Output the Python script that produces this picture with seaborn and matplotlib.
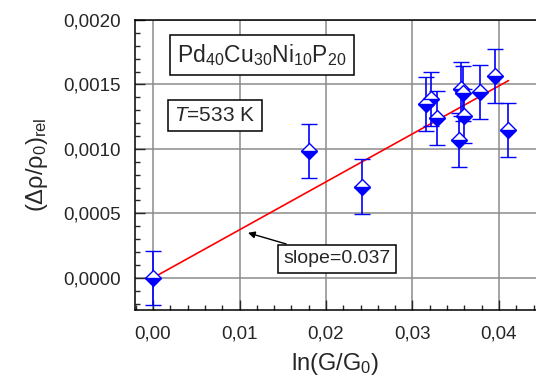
import numpy as np
import pandas as pd
import seaborn as sns
import matplotlib
matplotlib.use("Agg")
from matplotlib import pyplot as plt
from matplotlib.ticker import MultipleLocator, FuncFormatter

# datos medidos: ln(G/G0) contra (drho/rho0)_rel
ln_g = [0.0, 0.0180, 0.0242, 0.0316, 0.0321, 0.0328, 0.0354, 0.0356, 0.0358, 0.0359, 0.0378, 0.0395, 0.0411]
drho = [0.0, 0.000984, 0.000708, 0.001349, 0.001384, 0.001238, 0.001070, 0.001465, 0.001430, 0.001256, 0.001444, 0.001566, 0.001147]
drho_err = [0.00021, 0.00021, 0.00021, 0.00021, 0.00021, 0.00021, 0.00021, 0.00021, 0.00021, 0.00021, 0.00021, 0.00021, 0.00021]

# ajuste lineal (pendiente 0.037)
fit_x = [0.0, 0.0411]
fit_y = [0.0, 0.00153]

sns.set_style("white")
plt.rcParams['font.family'] = ['Liberation Sans', 'DejaVu Sans']
plt.rcParams['mathtext.fontset'] = 'custom'
plt.rcParams['mathtext.rm'] = 'Liberation Sans'
plt.rcParams['mathtext.it'] = 'Liberation Sans:italic'
plt.rcParams['mathtext.default'] = 'regular'

fig = plt.figure(figsize=(5.36, 3.85), dpi=100)
ax = fig.add_axes([0.2519, 0.1948, 0.7481, 0.7532])

ax.grid(True, which='major', color='#8c8c8c', lw=1.1, zorder=0)
ax.set_axisbelow(True)

fit = pd.DataFrame({'x': fit_x, 'y': fit_y})
sns.lineplot(data=fit, x='x', y='y', color='red', lw=1.2, ax=ax, zorder=3)

ax.errorbar(ln_g, drho, yerr=drho_err, fmt='D', color='blue', ms=8,
            mfc='blue', mfcalt='white', mec='blue', mew=1.0, fillstyle='bottom',
            ecolor='blue', elinewidth=1.2, capsize=6, capthick=1.2, zorder=4)

ax.set_xlim(-0.00208, 0.04428)
ax.set_ylim(-0.00025, 0.0020)
ax.xaxis.set_major_locator(MultipleLocator(0.01))
ax.xaxis.set_minor_locator(MultipleLocator(0.002))
ax.yaxis.set_major_locator(MultipleLocator(0.0005))
ax.yaxis.set_minor_locator(MultipleLocator(0.0001))
ax.xaxis.set_major_formatter(FuncFormatter(lambda v, p: f'{v:.2f}'.replace('.', ',').replace('-', '')))
ax.yaxis.set_major_formatter(FuncFormatter(lambda v, p: f'{v:.4f}'.replace('.', ',').replace('-', '')))
ax.tick_params(axis='x', which='major', pad=11)
ax.tick_params(axis='y', which='major', pad=10)
ax.tick_params(which='major', direction='in', length=7, width=1.0, labelsize=13.5,
               top=False, right=False, bottom=True, left=True)
ax.tick_params(which='minor', direction='in', length=3.5, width=1.0,
               top=False, right=False, bottom=True, left=True)

for s in ['left', 'bottom', 'top']:
    ax.spines[s].set_color('black')
    ax.spines[s].set_linewidth(1.1)
ax.spines['right'].set_visible(False)

ax.set_xlabel(r'ln(G/G$_0$)', fontsize=17, labelpad=6)
ax.set_ylabel(r'($\Delta\rho/\rho_0$)$_{rel}$', fontsize=17, labelpad=10)

box = dict(boxstyle='square,pad=0.3', fc='white', ec='black', lw=1.1)
ax.text(0.0126, 0.001729, r'Pd$_{40}$Cu$_{30}$Ni$_{10}$P$_{20}$', fontsize=16.5,
        ha='center', va='center', bbox=box, zorder=5)
ax.text(0.00717, 0.00126, r'$\mathit{T}$=533 K', fontsize=15,
        ha='center', va='center', bbox=box, zorder=5)
ax.annotate('slope=0.037', xy=(0.01098, 0.000349), xytext=(0.02127, 0.000147),
            fontsize=14, ha='center', va='center', bbox=box, zorder=5,
            arrowprops=dict(arrowstyle='-|>', color='black', lw=1.0, shrinkA=0, shrinkB=0,
                            mutation_scale=10))

fig.savefig('out.png', dpi=100)
